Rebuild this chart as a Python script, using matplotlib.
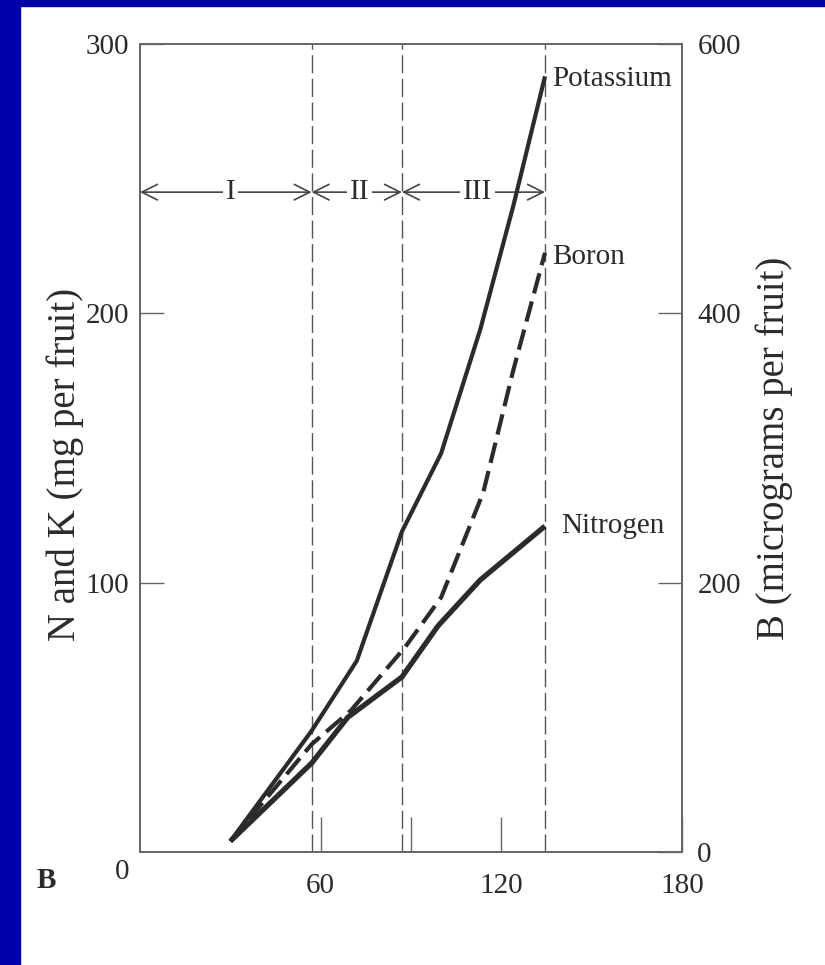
import matplotlib
matplotlib.use("Agg")
import matplotlib.pyplot as plt
from matplotlib.patches import Rectangle

# Accumulation of nutrients in a developing fruit (days after bloom)
days_k = [30, 57, 72, 87, 100, 113, 124, 134.5]
potassium = [4, 45, 71, 119, 148, 194, 240, 288]          # mg per fruit

days_n = [30, 57, 69, 87, 99, 113, 134.5]
nitrogen = [4, 33, 50, 65, 84, 101, 121]                  # mg per fruit

days_b = [30, 57, 70, 88, 100, 114, 124, 134.5]
boron = [8, 80, 105, 152, 189, 267, 358, 445]             # micrograms per fruit

stage_bounds = [0, 57, 87, 134.5]
stage_names = ["I", "II", "III"]

x_ticks = [60, 120, 180]
x_minor = [90]
left_ticks = [100, 200, 300]
right_ticks = [0, 200, 400, 600]

INK = "#2b2b2b"
AXC = "#666666"
SERIF = ["Liberation Serif", "DejaVu Serif"]
plt.rcParams["font.family"] = SERIF

fig = plt.figure(figsize=(8.25, 9.65), dpi=100)
fig.patch.set_facecolor("white")

# blue slide frame along the left and top edges
fig.patches.append(Rectangle((0, 0), 20 / 825, 1, transform=fig.transFigure,
                             color="#0000a8", zorder=0))
fig.patches.append(Rectangle((0, 1 - 6 / 965), 1, 6 / 965, transform=fig.transFigure,
                             color="#0000a8", zorder=0))

ax = fig.add_axes([140 / 825, 1 - 852 / 965, 542 / 825, 808 / 965])
ax.set_xlim(0, 180)
ax.set_ylim(0, 300)
ax2 = ax.twinx()
ax2.set_ylim(0, 600)

for a in (ax, ax2):
    for s in a.spines.values():
        s.set_color(AXC)
        s.set_linewidth(1.3)

# period boundaries
for xb in stage_bounds[1:]:
    ax.plot([xb, xb], [0, 300], color="#555555", lw=1.0, dashes=(13, 4), zorder=1)

# nutrient curves
ax.plot(days_k, potassium, color=INK, lw=3.0, solid_capstyle="butt", zorder=3)
ax.plot(days_n, nitrogen, color=INK, lw=3.8, solid_capstyle="butt", zorder=3)
lb, = ax2.plot(days_b, boron, color=INK, lw=3.0, zorder=3)
lb.set_dashes((5, 2))

# curve labels
ax.text(137, 287, "Potassium", fontsize=21, color=INK, va="center", ha="left")
ax.text(137, 221, "Boron", fontsize=21, color=INK, va="center", ha="left")
ax.text(140, 121, "Nitrogen", fontsize=21, color=INK, va="center", ha="left")

# growth periods with double-headed arrows
y_arrow = 245
for i, name in enumerate(stage_names):
    x0, x1 = stage_bounds[i], stage_bounds[i + 1]
    ax.annotate("", xy=(x1, y_arrow), xytext=(x0, y_arrow),
                arrowprops=dict(arrowstyle="<->", color="#444444", lw=1.2,
                                shrinkA=0, shrinkB=0, mutation_scale=28),
                zorder=2)
xm = [30, 73, 112]
for x, name in zip(xm, stage_names):
    ax.text(x, y_arrow, name, fontsize=21, color=INK, ha="center", va="center",
            bbox=dict(facecolor="white", edgecolor="none", pad=2), zorder=4)

# ticks
ax.set_xticks(x_ticks)
ax.set_xticklabels([str(t) for t in x_ticks])
ax.set_xticks(x_minor, minor=True)
ax.tick_params(axis="x", which="both", direction="in", length=25, width=1.0,
               color=AXC, pad=15, labelsize=21, labelcolor=INK)
ax.set_yticks(left_ticks)
ax.tick_params(axis="y", direction="in", length=17, width=1.0, color=AXC,
               pad=8, labelsize=21, labelcolor=INK)
ax2.set_yticks(right_ticks)
ax2.tick_params(axis="y", direction="in", length=17, width=1.0, color=AXC,
                pad=11, labelsize=21, labelcolor=INK)

ax.set_ylabel("N and K (mg per fruit)", fontsize=28, color=INK)
ax2.set_ylabel("B (micrograms per fruit)", fontsize=28, color=INK)
ax.yaxis.set_label_coords(-56 / 542, 0.48)
ax2.yaxis.set_label_coords(1 + 73 / 542, 0.50)

# shared origin label and panel letter
fig.text(122 / 825, 1 - 872 / 965, "0", fontsize=21, color=INK, ha="center", va="center")
fig.text(46 / 825, 1 - 880 / 965, "B", fontsize=21, color=INK, ha="center", va="center",
         fontweight="bold")

fig.savefig("out.png", dpi=100, facecolor="white")
